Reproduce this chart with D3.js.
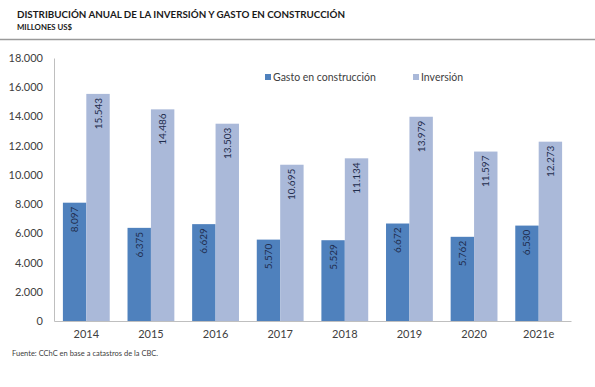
<!DOCTYPE html>
<meta charset="utf-8">
<script src="https://d3js.org/d3.v7.min.js"></script>
<style>
  body { margin: 0; background: #fff; }
  text { font-family: Lato, "Open Sans", sans-serif; }
</style>
<div id="chart"></div>
<script>

// data
var years = ["2014", "2015", "2016", "2017", "2018", "2019", "2020", "2021e"];
var gasto = [8097, 6375, 6629, 5570, 5529, 6672, 5762, 6530];
var inversion = [15543, 14486, 13503, 10695, 11134, 13979, 11597, 12273];
var seriesNames = ["Gasto en construcción", "Inversión"];
var yTicks = [0, 2000, 4000, 6000, 8000, 10000, 12000, 14000, 16000, 18000];

var W = 595, H = 387;
var margin = {top: 58, right: 24, bottom: 66, left: 54},
    width = W - margin.left - margin.right,
    height = H - margin.top - margin.bottom;

var colors = ["#4f81bd", "#aab9d9"];

// numbers like 15.543
function fmt(v) {
  return v.toString().replace(/\B(?=(\d{3})+(?!\d))/g, ".");
}

var root = d3.select("#chart").append("svg")
  .attr("width", W)
  .attr("height", H);

// heading
root.append("text")
  .attr("x", 17).attr("y", 18)
  .attr("font-size", 9.8).attr("font-weight", "bold").attr("fill", "#1a1a1a")
  .text("DISTRIBUCIÓN ANUAL DE LA INVERSIÓN Y GASTO EN CONSTRUCCIÓN");
root.append("text")
  .attr("x", 17).attr("y", 30)
  .attr("font-size", 7.8).attr("font-weight", "bold").attr("fill", "#1a1a1a")
  .text("MILLONES US$");
root.append("line")
  .attr("x1", 0).attr("x2", W).attr("y1", 39.5).attr("y2", 39.5)
  .attr("stroke", "#9a9a9a").attr("stroke-width", 1.5);

var svg = root.append("g")
  .attr("transform", "translate(" + margin.left + "," + margin.top + ")");

var x = d3.scaleBand()
  .domain(years)
  .range([0, width]);

var x1 = d3.scaleBand()
  .domain(seriesNames)
  .range([0, x.bandwidth()])
  .paddingOuter(0.38);

var y = d3.scaleLinear()
  .domain([0, 18000])
  .range([height, 0]);

// y axis
var yAxis = svg.append("g")
  .call(d3.axisLeft(y).tickValues(yTicks).tickFormat(fmt).tickSize(0).tickPadding(11));
yAxis.select(".domain").attr("stroke", "#bfbfbf");
yAxis.selectAll("text").attr("font-size", 11).attr("fill", "#404040")
  .attr("font-family", "Lato, 'Open Sans', sans-serif");

// x axis
var xAxis = svg.append("g")
  .attr("transform", "translate(0," + height + ")")
  .call(d3.axisBottom(x).tickSize(0).tickPadding(9));
xAxis.select(".domain").attr("stroke", "#bfbfbf");
xAxis.selectAll("text").attr("font-size", 11).attr("fill", "#404040")
  .attr("font-family", "Lato, 'Open Sans', sans-serif");

var rows = years.map(function(yr, i) {
  return {year: yr, values: [gasto[i], inversion[i]]};
});

var groups = svg.selectAll(".grp")
  .data(rows)
  .enter().append("g")
  .attr("transform", function(d) { return "translate(" + x(d.year) + ",0)"; });

var bars = groups.selectAll("g.bar")
  .data(function(d) {
    return d.values.map(function(v, k) { return {key: seriesNames[k], k: k, value: v}; });
  })
  .enter().append("g");

bars.append("rect")
  .attr("x", function(d) { return x1(d.key); })
  .attr("width", x1.bandwidth())
  .attr("y", function(d) { return y(d.value); })
  .attr("height", function(d) { return height - y(d.value); })
  .attr("fill", function(d) { return colors[d.k]; });

bars.append("text")
  .attr("transform", function(d) {
    return "translate(" + (x1(d.key) + x1.bandwidth() / 2 + 3.5) + "," + (y(d.value) + 4) + ") rotate(-90)";
  })
  .attr("text-anchor", "end")
  .attr("font-size", 10)
  .attr("fill", "#1f2d4d")
  .text(function(d) { return fmt(d.value); });

// legend
var legX = [265, 413];
var leg = root.selectAll(".leg")
  .data(seriesNames)
  .enter().append("g")
  .attr("transform", function(d, i) { return "translate(" + legX[i] + ",74)"; });
leg.append("rect")
  .attr("width", 6).attr("height", 6)
  .attr("fill", function(d, i) { return colors[i]; });
leg.append("text")
  .attr("x", 8).attr("y", 7)
  .attr("font-size", 10.5).attr("fill", "#404040")
  .text(function(d) { return d; });

// source note
root.append("text")
  .attr("x", 12).attr("y", 356)
  .attr("font-size", 7.5).attr("fill", "#404040")
  .text("Fuente: CChC en base a catastros de la CBC.");

</script>
